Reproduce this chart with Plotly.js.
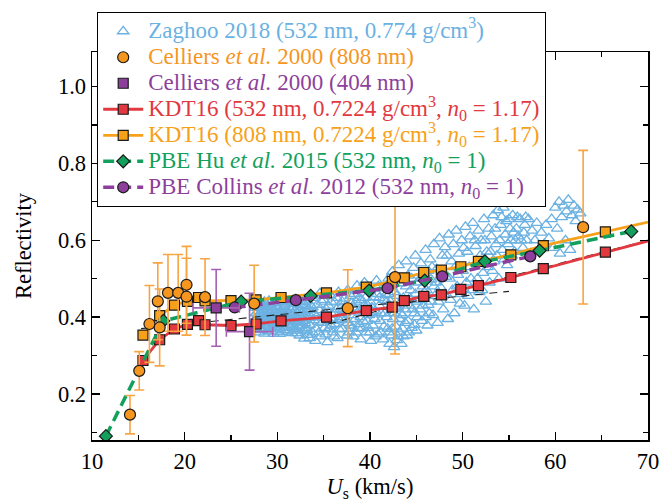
<!DOCTYPE html>
<html>
<head>
<meta charset="utf-8">
<script src="https://cdn.plot.ly/plotly-3.0.1.min.js"></script>
<style>
  html, body { margin: 0; padding: 0; background: #fff; }
  #chart { width: 659px; height: 502px; }
</style>
</head>
<body>
<div id="chart"></div>
<script>
// Shock velocity U_s (km/s) versus optical reflectivity of shocked deuterium.

// Zaghoo 2018 streaked reflectivity, [U_s, R]
const zaghooPoints = [
  [27.6,0.392],[27.7,0.41],[27.9,0.378],[28.0,0.425],[28.1,0.398],[28.3,0.366],[28.3,0.436],[28.5,0.384],
  [28.6,0.412],[28.8,0.372],[28.9,0.428],[29.0,0.395],[29.1,0.442],[29.3,0.362],[29.4,0.404],[29.5,0.382],
  [29.6,0.418],[29.8,0.436],[29.9,0.37],[30.0,0.394],[30.1,0.41],[30.3,0.356],[30.3,0.428],[30.5,0.383],
  [30.6,0.444],[30.7,0.402],[30.8,0.366],[31.0,0.418],[31.1,0.39],[31.2,0.435],[31.3,0.374],[31.5,0.405],
  [31.6,0.358],[31.7,0.426],[31.8,0.388],[32.0,0.447],[32.0,0.37],[32.2,0.41],[32.3,0.394],[32.4,0.352],
  [32.5,0.432],[32.6,0.378],[32.8,0.415],[32.9,0.344],[33.0,0.44],[33.1,0.396],[33.2,0.365],[33.4,0.42],
  [33.5,0.38],[27.8,0.4],[28.2,0.388],[28.7,0.4],[29.2,0.384],[29.7,0.408],[30.2,0.372],[30.9,0.392],
  [31.4,0.42],[31.9,0.402],[32.7,0.398],[33.3,0.41],[29.0,0.418],[30.4,0.415],[31.8,0.365],[28.4,0.42],
  [27.6,0.372],[27.6,0.424],[27.9,0.44],[28.0,0.36],[28.2,0.408],[28.5,0.432],[28.6,0.357],[28.9,0.386],
  [29.1,0.41],[29.3,0.426],[29.4,0.373],[29.6,0.356],[29.8,0.392],[30.0,0.43],[30.1,0.38],[30.4,0.398],
  [30.5,0.36],[30.7,0.425],[30.9,0.44],[31.0,0.372],[31.2,0.405],[31.4,0.386],[31.5,0.44],[31.7,0.37],
  [31.9,0.418],[32.1,0.385],[32.2,0.358],[32.4,0.42],[32.5,0.4],[32.7,0.44],[32.8,0.368],[33.0,0.384],
  [33.1,0.43],[33.3,0.354],[33.4,0.398],[28.1,0.38],[29.5,0.4],[30.8,0.41],[32.0,0.395],[27.8,0.43],
  [27.7,0.385],[27.9,0.415],[28.1,0.432],[28.2,0.37],[28.4,0.395],[28.6,0.44],[28.7,0.378],[28.9,0.408],
  [29.0,0.364],[29.2,0.435],[29.4,0.39],[29.5,0.416],[29.7,0.375],[29.9,0.425],[30.0,0.362],[30.2,0.44],
  [30.3,0.39],[30.5,0.408],[30.6,0.372],[30.8,0.43],[31.0,0.4],[31.1,0.362],[31.3,0.442],[31.4,0.397],
  [31.6,0.38],[31.7,0.41],[31.9,0.435],[32.0,0.358],[32.2,0.425],[32.3,0.375],[32.5,0.388],[32.6,0.41],
  [32.8,0.43],[32.9,0.39],[33.1,0.372],[33.2,0.418],[30.0,0.41],[29.0,0.4],[31.5,0.425],[28.5,0.405],
  [33.7,0.455],[33.8,0.36],[34.0,0.41],[34.1,0.338],[34.3,0.432],[34.4,0.388],[34.6,0.462],[34.7,0.35],
  [34.9,0.4],[35.0,0.445],[35.1,0.372],[35.3,0.42],[35.4,0.335],[35.6,0.39],[35.7,0.458],[35.9,0.408],
  [36.0,0.36],[36.2,0.438],[36.3,0.382],[36.5,0.345],[36.6,0.465],[36.8,0.4],[36.9,0.425],[37.0,0.37],
  [37.2,0.448],[37.3,0.392],[37.5,0.352],[37.6,0.47],[37.8,0.415],[37.9,0.378],[38.0,0.436],
  [33.6,0.43],[33.9,0.392],[34.2,0.37],[34.5,0.418],[34.8,0.44],[35.2,0.355],[35.5,0.43],[35.8,0.378],
  [36.1,0.41],[36.4,0.45],[36.7,0.368],[37.1,0.418],[37.4,0.43],[37.7,0.36],[34.0,0.45],[35.0,0.4],
  [36.0,0.39],[37.0,0.395],
  [33.5,0.345],[33.8,0.425],[34.2,0.4],[34.5,0.36],[34.8,0.385],[35.2,0.41],[35.5,0.368],[35.8,0.44],
  [36.1,0.35],[36.4,0.42],[36.7,0.392],[37.0,0.44],[37.3,0.41],[37.6,0.385],[37.9,0.455],
  [38.2,0.35],[38.3,0.46],[38.4,0.395],[38.6,0.482],[38.7,0.372],[38.9,0.42],[39.0,0.342],[39.1,0.445],
  [39.3,0.388],[39.4,0.49],[39.6,0.36],[39.7,0.432],[39.9,0.405],[40.0,0.468],[40.1,0.338],[40.3,0.378],
  [40.4,0.452],[40.6,0.415],[40.7,0.495],[40.9,0.355],[41.0,0.43],[41.1,0.39],[41.3,0.475],[41.4,0.342],
  [41.6,0.41],[41.7,0.458],[41.9,0.37],[42.0,0.5],
  [38.1,0.405],[38.5,0.44],[38.8,0.382],[39.2,0.415],[39.5,0.45],[39.8,0.372],[40.2,0.425],[40.5,0.395],
  [40.8,0.46],[41.2,0.41],[41.5,0.375],[41.8,0.44],[38.0,0.37],[39.0,0.4],[40.0,0.36],[41.0,0.45],
  [38.2,0.425],[38.5,0.36],[38.8,0.45],[39.1,0.37],[39.4,0.43],[39.7,0.39],[40.0,0.44],[40.3,0.41],
  [40.6,0.35],[40.9,0.48],[41.2,0.36],[41.5,0.445],[41.8,0.4],
  [42.1,0.33],[42.2,0.44],[42.3,0.352],[42.4,0.518],[42.5,0.395],[42.6,0.322],[42.7,0.465],[42.8,0.375],
  [42.9,0.34],[43.0,0.425],[43.1,0.535],[43.2,0.36],[43.3,0.488],[43.4,0.33],[43.5,0.405],[43.6,0.45],
  [43.8,0.385],[43.9,0.545],[44.0,0.352],[44.1,0.508],[44.2,0.43],[44.4,0.47],[44.5,0.372],
  [42.0,0.36],[42.3,0.48],[42.6,0.41],[42.9,0.455],[43.2,0.395],[43.5,0.37],[43.8,0.42],[44.1,0.39],
  [44.3,0.45],[43.0,0.35],
  [42.1,0.46],[42.4,0.37],[42.7,0.43],[43.0,0.5],[43.3,0.41],[43.6,0.35],[43.9,0.48],[44.2,0.36],
  [44.5,0.5],
  [44.7,0.528],[44.8,0.41],[44.9,0.56],[45.0,0.365],[45.2,0.49],[45.3,0.445],[45.5,0.54],[45.6,0.39],
  [45.8,0.515],[45.9,0.465],[46.0,0.575],[46.2,0.378],[46.3,0.432],[46.5,0.55],[46.6,0.498],[46.8,0.405],
  [46.9,0.59],[47.0,0.455],
  [44.6,0.42],[44.9,0.46],[45.1,0.4],[45.4,0.5],[45.7,0.43],[46.1,0.47],[46.4,0.41],[46.7,0.53],
  [44.8,0.38],[45.1,0.44],[45.4,0.42],[45.7,0.48],[46.0,0.4],[46.3,0.52],[46.6,0.44],[46.9,0.48],
  [47.2,0.525],[47.3,0.385],[47.5,0.605],[47.6,0.478],[47.8,0.56],[47.9,0.42],[48.1,0.582],[48.2,0.505],
  [48.4,0.395],[48.5,0.615],[48.7,0.445],[48.8,0.545],[49.0,0.59],[49.1,0.41],[49.3,0.625],[49.4,0.48],
  [49.6,0.565],[49.7,0.435],[49.9,0.6],[50.0,0.52],
  [47.1,0.49],[47.4,0.44],[47.7,0.51],[48.0,0.46],[48.3,0.56],[48.6,0.5],[48.9,0.47],[49.2,0.53],
  [49.5,0.51],[49.8,0.46],
  [50.2,0.43],[50.3,0.635],[50.5,0.57],[50.6,0.455],[50.8,0.61],[50.9,0.5],[51.1,0.645],[51.2,0.42],
  [51.4,0.585],[51.5,0.54],[51.7,0.625],[51.8,0.465],[52.0,0.6],[52.2,0.515],[52.3,0.655],[52.5,0.44],
  [52.6,0.57],[52.8,0.63],[52.9,0.49],
  [50.1,0.58],[50.4,0.49],[50.7,0.53],[51.0,0.47],[51.3,0.6],[51.6,0.5],[51.9,0.56],[52.1,0.47],
  [52.4,0.6],[52.7,0.53],
  [53.1,0.61],[53.3,0.665],[53.4,0.545],[53.6,0.59],[53.8,0.678],[53.9,0.5],[54.1,0.64],[54.3,0.575],
  [54.4,0.685],[54.6,0.615],[54.8,0.535],[55.0,0.655],[55.2,0.6],[55.4,0.665],[55.6,0.57],[55.8,0.63],
  [56.0,0.61],[56.2,0.655],
  [53.0,0.57],[53.2,0.52],[53.5,0.63],[53.7,0.56],[54.0,0.6],[54.2,0.66],[54.5,0.55],[54.7,0.65],
  [54.9,0.59],[55.1,0.63],[55.3,0.56],[55.5,0.62],[55.7,0.6],[55.9,0.66],
  [56.5,0.58],[56.7,0.64],[56.9,0.6],[57.1,0.655],[57.3,0.565],[57.5,0.625],[57.8,0.6],[58.0,0.645],
  [58.2,0.575],[58.5,0.62],[58.8,0.59],[59.0,0.64],[59.3,0.605],[56.3,0.6],[56.6,0.62],[56.8,0.66],
  [59.6,0.655],[59.8,0.58],[60.0,0.685],[60.2,0.63],[60.4,0.7],[60.5,0.565],[60.7,0.66],[60.9,0.69],
  [61.1,0.6],[61.2,0.675],[61.4,0.705],[61.6,0.575],[61.8,0.665],[62.0,0.69],[62.2,0.65],[62.4,0.68],
  [62.7,0.67]
];
const zaghooUs = zaghooPoints.map(p => p[0]);
const zaghooR  = zaghooPoints.map(p => p[1]);

// Linear trends through the Zaghoo data (low- and high-velocity branches)
const trendLowUs  = [15.3, 55.0];
const trendLowR   = [0.370, 0.467];
const trendHighUs = [35.5, 70.0];
const trendHighR  = [0.382, 0.600];

// Celliers et al. 2000, 808 nm
const cel808Us  = [14.1, 15.1, 16.2, 17.1, 17.3, 18.2, 19.3, 20.2, 20.2, 22.2, 27.5, 37.6, 42.7, 63.0];
const cel808R   = [0.146, 0.260, 0.382, 0.441, 0.373, 0.463, 0.463, 0.484, 0.453, 0.452, 0.435, 0.423, 0.504, 0.634];
const cel808Err = [0.05, 0.05, 0.10, 0.10, 0.10, 0.10, 0.10, 0.10, 0.10, 0.10, 0.10, 0.10, 0.20, 0.20];

// Celliers et al. 2000, 404 nm
const cel404Us    = [23.4, 27.0];
const cel404R     = [0.424, 0.362];
const cel404Err   = [0.10, 0.10];
const cel404UsErr = [2.5, 2.5];

// KDT16 calculations (532 nm and 808 nm share the same velocities)
const kdtUs   = [15.5, 17.3, 18.9, 20.3, 21.5, 22.2, 25.0, 27.7, 30.4, 35.3, 39.6, 42.4, 43.7, 45.8, 47.7, 49.8, 51.7, 55.2, 58.7, 65.4, 72.0];
const kdt532R = [0.287, 0.341, 0.369, 0.381, 0.391, 0.380, 0.378, 0.382, 0.390, 0.400, 0.417, 0.426, 0.443, 0.454, 0.458, 0.472, 0.482, 0.503, 0.526, 0.569, 0.611];
const kdt808R = [0.353, 0.404, 0.431, 0.441, 0.451, 0.442, 0.443, 0.445, 0.451, 0.463, 0.478, 0.493, 0.502, 0.516, 0.522, 0.531, 0.545, 0.562, 0.586, 0.622, 0.658];

// PBE, Hu et al. 2015
const huUs = [11.5, 17.7, 26.1, 33.6, 39.9, 45.9, 52.4, 58.3, 68.2];
const huR  = [0.090, 0.390, 0.440, 0.455, 0.469, 0.495, 0.545, 0.573, 0.623];

// PBE, Collins et al. 2012
const collinsUs = [25.4, 32.0, 41.9, 47.8, 57.3];
const collinsR  = [0.425, 0.444, 0.475, 0.506, 0.558];

const C = {
  blue: '#6BB1E2',
  orange: '#F5961F',
  orangeBar: '#F7A543',
  purple: '#8E3F9C',
  purpleBar: '#A561B2',
  red: '#E2383F',
  kdtOrange: '#F7A11A',
  green: '#12A05C'
};

const SERIF = 'Liberation Serif, Times New Roman, serif';

// Legend entries: coloured text, a little larger than the row pitch would normally allow
const legendLabel = (color, html) =>
  `<span style="color:${color};font-size:23px">${html}</span>`;
const edge = { color: '#1a1a1a', width: 1.2 };

const traces = [
  {
    x: zaghooUs, y: zaghooR, type: 'scatter', mode: 'markers', legendrank: 1,
    name: legendLabel(C.blue, 'Zaghoo 2018 (532 nm, 0.774 g/cm<sup>3</sup>)'),
    marker: { symbol: 'triangle-up-open', size: 10, color: C.blue, line: { width: 1.3, color: C.blue } }
  },
  {
    x: trendLowUs, y: trendLowR, type: 'scatter', mode: 'lines', showlegend: false, hoverinfo: 'skip',
    line: { color: '#222', width: 1.1, dash: '8px,6px' }
  },
  {
    x: trendHighUs, y: trendHighR, type: 'scatter', mode: 'lines', showlegend: false, hoverinfo: 'skip',
    line: { color: '#222', width: 1.1, dash: '8px,6px' }
  },
  {
    x: kdtUs, y: kdt532R, type: 'scatter', mode: 'lines+markers', legendrank: 4,
    name: legendLabel(C.red, 'KDT16 (532 nm, 0.7224 g/cm<sup>3</sup>, <i>n</i><sub>0</sub> = 1.17)'),
    line: { color: C.red, width: 2.8 },
    marker: { symbol: 'square', size: 10, color: C.red, line: edge }
  },
  {
    x: kdtUs, y: kdt808R, type: 'scatter', mode: 'lines+markers', legendrank: 5,
    name: legendLabel(C.kdtOrange, 'KDT16 (808 nm, 0.7224 g/cm<sup>3</sup>, <i>n</i><sub>0</sub> = 1.17)'),
    line: { color: C.kdtOrange, width: 2.8 },
    marker: { symbol: 'square', size: 10, color: C.kdtOrange, line: edge }
  },
  {
    x: huUs, y: huR, type: 'scatter', mode: 'lines+markers', legendrank: 6,
    name: legendLabel(C.green, 'PBE Hu <i>et al.</i> 2015 (532 nm, <i>n</i><sub>0</sub> = 1)'),
    line: { color: C.green, width: 3.5, dash: '11px,6px' },
    marker: { symbol: 'diamond', size: 10, color: C.green, line: edge }
  },
  {
    x: collinsUs, y: collinsR, type: 'scatter', mode: 'lines+markers', legendrank: 7,
    name: legendLabel(C.purple, 'PBE Collins <i>et al.</i> 2012 (532 nm, <i>n</i><sub>0</sub> = 1)'),
    line: { color: C.purple, width: 3.5, dash: '11px,6px' },
    marker: { symbol: 'circle', size: 11, color: C.purple, line: edge }
  },
  {
    x: cel404Us, y: cel404R, type: 'scatter', mode: 'markers', legendrank: 3,
    name: legendLabel(C.purple, 'Celliers <i>et al.</i> 2000 (404 nm)'),
    error_y: { type: 'data', array: cel404Err, color: C.purpleBar, thickness: 1.6, width: 5 },
    error_x: { type: 'data', array: cel404UsErr, color: C.purpleBar, thickness: 1.6, width: 5 },
    marker: { symbol: 'square', size: 10, color: C.purple, line: edge }
  },
  {
    x: cel808Us, y: cel808R, type: 'scatter', mode: 'markers', legendrank: 2,
    name: legendLabel(C.orange, 'Celliers <i>et al.</i> 2000 (808 nm)'),
    error_y: { type: 'data', array: cel808Err, color: C.orangeBar, thickness: 1.6, width: 5 },
    marker: { symbol: 'circle', size: 11, color: C.orange, line: edge }
  }
];

const axisBase = {
  showline: true, linecolor: '#000', linewidth: 1.5, mirror: 'ticks',
  ticks: 'inside', ticklen: 8, tickwidth: 1.3, tickcolor: '#000',
  showgrid: false, zeroline: false,
  tickfont: { family: SERIF, size: 22.5, color: '#000' }
};

const layout = {
  width: 659, height: 502,
  margin: { l: 92, r: 11, t: 52, b: 62 },
  paper_bgcolor: '#fff', plot_bgcolor: '#fff',
  font: { family: SERIF, size: 22.5, color: '#000' },
  showlegend: true,
  xaxis: Object.assign({}, axisBase, {
    range: [10, 70], tick0: 10, dtick: 10, ticklabeloverflow: 'allow',
    minor: { dtick: 5, ticks: 'inside', ticklen: 5, tickwidth: 1.3, tickcolor: '#000', showgrid: false },
    title: { text: '<i>U</i><sub>s</sub> (km/s)', font: { family: SERIF, size: 22.5 }, standoff: 8 }
  }),
  yaxis: Object.assign({}, axisBase, {
    range: [0.08, 1.09], tick0: 0, dtick: 0.2, tickformat: '.1f',
    minor: { dtick: 0.1, ticks: 'inside', ticklen: 5, tickwidth: 1.3, tickcolor: '#000', showgrid: false },
    title: { text: 'Reflectivity', font: { family: SERIF, size: 22.5 }, standoff: 20 }
  }),
  legend: {
    x: 0.009, y: 1.103, xanchor: 'left', yanchor: 'top',
    bgcolor: '#fff', bordercolor: '#000', borderwidth: 1.2,
    font: { family: SERIF, size: 17.7 }, itemwidth: 40, tracegroupgap: 0
  }
};

Plotly.newPlot('chart', traces, layout, { displayModeBar: false, staticPlot: true });
</script>
</body>
</html>
